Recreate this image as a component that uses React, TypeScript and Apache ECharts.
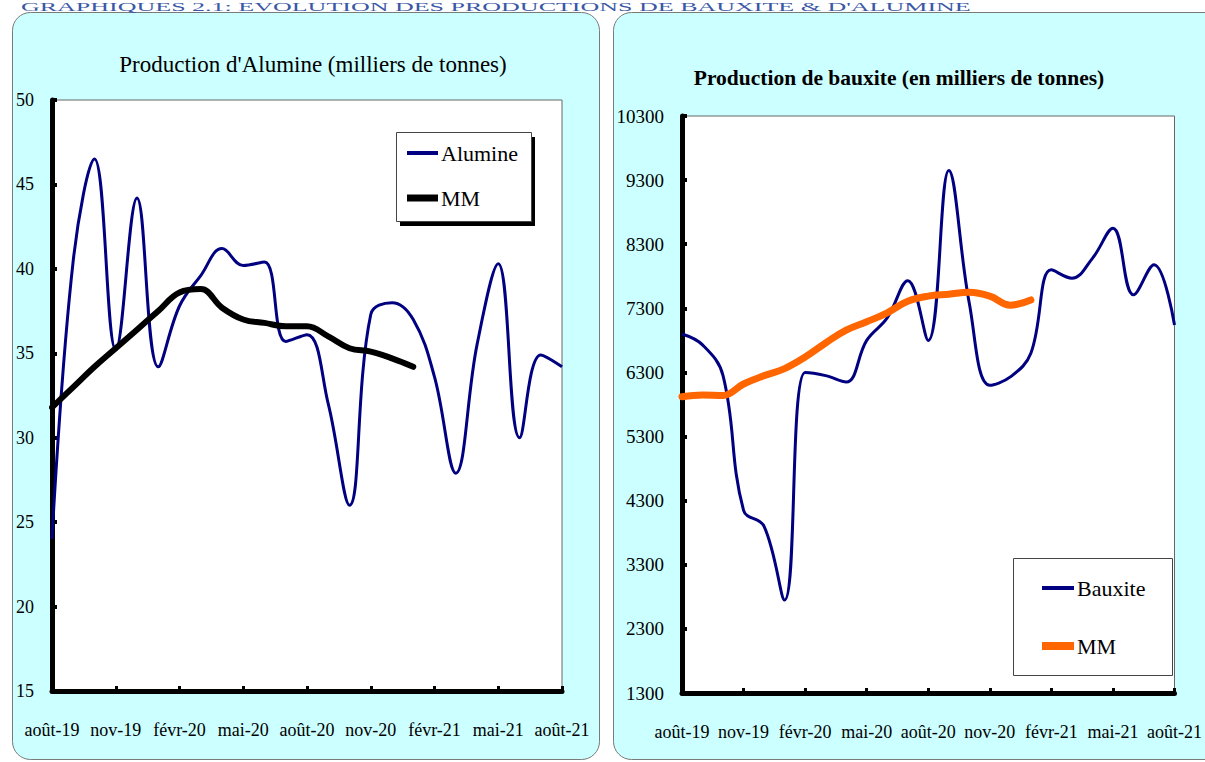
import React, { useEffect, useRef } from "react";
import * as echarts from "echarts";

const months = [
  "août-19", "sept-19", "oct-19", "nov-19", "déc-19", "janv-20", "févr-20", "mars-20", "avr-20",
  "mai-20", "juin-20", "juil-20", "août-20", "sept-20", "oct-20", "nov-20", "déc-20", "janv-21",
  "févr-21", "mars-21", "avr-21", "mai-21", "juin-21", "juil-21", "août-21",
];

const alumine = [24, 40.5, 46.5, 35.2, 44.2, 34.2, 37.8, 39.6, 41.2, 40.2, 40.4, 35.7, 36.1, 32, 26, 37.3, 38, 37, 33.6, 27.9, 35.5, 40.3, 30, 34.9, 34.2];
const alumineMM = [31.8, 33.0, 34.2, 35.3, 36.4, 37.5, 38.6, 38.8, 37.7, 37.0, 36.8, 36.6, 36.6, 36.0, 35.3, 35.1, 34.7, 34.2];

const bauxite = [6900, 6730, 6250, 4150, 3900, 2750, 6300, 6250, 6150, 6800, 7150, 7730, 6800, 9450, 7380, 6100, 6230, 6600, 7900, 7770, 8080, 8550, 7510, 7980, 7040];
const bauxiteMM = [5920, 5950, 5940, 6120, 6250, 6360, 6540, 6760, 6960, 7090, 7230, 7410, 7490, 7520, 7550, 7490, 7350, 7430];

const alumineTicks = [15, 20, 25, 30, 35, 40, 45, 50];
const bauxiteTicks = [1300, 2300, 3300, 4300, 5300, 6300, 7300, 8300, 9300, 10300];

const headerText = "GRAPHIQUES 2.1: EVOLUTION DES PRODUCTIONS DE BAUXITE & D'ALUMINE";
const titleLeft = "Production d'Alumine (milliers de tonnes)";
const titleRight = "Production de bauxite (en milliers de tonnes)";

const FONT = '"Liberation Serif", "Times New Roman", serif';
const NAVY = "#000080";
const ORANGE = "#FF6600";

function xAxis(gridIndex: number) {
  return {
    type: "category",
    gridIndex,
    data: months,
    boundaryGap: false,
    axisLine: { show: true, lineStyle: { color: "#000", width: 5 } },
    axisTick: { show: true, inside: true, interval: 2, length: 5, lineStyle: { color: "#000", width: 3 } },
    axisLabel: { interval: 2, color: "#000", fontFamily: FONT, fontSize: 18, margin: 30 },
    splitLine: { show: false },
  };
}

function yAxis(gridIndex: number, ticks: number[], fontSize: number) {
  return {
    type: "value",
    gridIndex,
    min: ticks[0],
    max: ticks[ticks.length - 1],
    interval: ticks[1] - ticks[0],
    axisLine: { show: true, lineStyle: { color: "#000", width: 5 } },
    axisTick: { show: true, inside: true, length: 5, lineStyle: { color: "#000", width: 4 } },
    axisLabel: {
      color: "#000", fontFamily: FONT, fontSize, margin: 18,
      formatter: (v: number) => String(v),
    },
    splitLine: { show: false },
  };
}

function legendItem(name: string, color: string, left: number, top: number, w: number, h: number) {
  return {
    data: [{ name, icon: "rect", itemStyle: { color } }],
    left,
    top,
    itemWidth: w,
    itemHeight: h,
    padding: 0,
    itemGap: 0,
    selectedMode: false,
    textStyle: { color: "#000", fontFamily: FONT, fontSize: 22, padding: [0, 0, 0, -2] },
  };
}

export default function App() {
  const ref = useRef<HTMLDivElement>(null);

  useEffect(() => {
    if (!ref.current) return;
    const chart = echarts.init(ref.current, undefined, { renderer: "svg" });
    chart.setOption({
      animation: false,
      textStyle: { fontFamily: FONT },
      graphic: [
        {
          type: "rect", z: -10,
          shape: { x: 12.5, y: 12.5, width: 587, height: 747, r: 18 },
          style: { fill: "#CCFFFF", stroke: "#7a7a7a", lineWidth: 1 },
        },
        {
          type: "rect", z: -10,
          shape: { x: 613.5, y: 12.5, width: 610, height: 747, r: 18 },
          style: { fill: "#CCFFFF", stroke: "#7a7a7a", lineWidth: 1 },
        },
        {
          type: "text", x: 21, y: 0, z: 5, scaleY: 0.5,
          style: {
            text: headerText, fill: "#3A58A6", fontFamily: FONT, fontSize: 26,
            align: "left", verticalAlign: "top", textAlign: "left", textVerticalAlign: "top",
          },
        },
        {
          type: "text", x: 313, y: 64, z: 5,
          style: {
            text: titleLeft, fill: "#000", fontFamily: FONT, fontSize: 23,
            align: "center", verticalAlign: "middle", textAlign: "center", textVerticalAlign: "middle",
          },
        },
        {
          type: "text", x: 899, y: 78, z: 5,
          style: {
            text: titleRight, fill: "#000", fontFamily: FONT, fontSize: 21.5, fontWeight: "bold",
            align: "center", verticalAlign: "middle", textAlign: "center", textVerticalAlign: "middle",
          },
        },
        {
          type: "rect", z: 3,
          shape: { x: 400, y: 137, width: 135, height: 89 },
          style: { fill: "#000" },
        },
        {
          type: "rect", z: 3,
          shape: { x: 396.5, y: 132.5, width: 135, height: 89 },
          style: { fill: "#fff", stroke: "#444", lineWidth: 1 },
        },
        {
          type: "rect", z: 3,
          shape: { x: 1013.5, y: 558.5, width: 159, height: 117 },
          style: { fill: "#fff", stroke: "#444", lineWidth: 1 },
        },
      ],
      legend: [
        legendItem("Alumine", NAVY, 407, 142, 31, 4),
        legendItem("MM", "#000", 407, 187, 31, 7),
        legendItem("Bauxite", NAVY, 1042, 577, 32, 4),
        legendItem("MM", ORANGE, 1042, 635, 32, 8),
      ],
      grid: [
        {
          left: 52, top: 100, width: 510, height: 591,
          show: true, backgroundColor: "#fff", borderColor: "#666", borderWidth: 1,
        },
        {
          left: 682, top: 116, width: 496, height: 577,
          show: true, backgroundColor: "#fff", borderColor: "#666", borderWidth: 1,
        },
      ],
      xAxis: [xAxis(0), xAxis(1)],
      yAxis: [yAxis(0, alumineTicks, 18), yAxis(1, bauxiteTicks, 19)],
      series: [
        {
          type: "line", name: "Alumine", xAxisIndex: 0, yAxisIndex: 0, data: alumine,
          smooth: 0.4, symbol: "none", z: 2,
          lineStyle: { color: NAVY, width: 3 }, itemStyle: { color: NAVY },
        },
        {
          type: "line", name: "MM", xAxisIndex: 0, yAxisIndex: 0, data: alumineMM,
          smooth: 0.4, symbol: "none", z: 2,
          lineStyle: { color: "#000", width: 6, cap: "round" }, itemStyle: { color: "#000" },
        },
        {
          type: "line", name: "Bauxite", xAxisIndex: 1, yAxisIndex: 1, data: bauxite,
          smooth: 0.4, symbol: "none", z: 2,
          lineStyle: { color: NAVY, width: 3 }, itemStyle: { color: NAVY },
        },
        {
          type: "line", name: "MM", xAxisIndex: 1, yAxisIndex: 1, data: bauxiteMM,
          smooth: 0.4, symbol: "none", z: 2,
          lineStyle: { color: ORANGE, width: 7, cap: "round" }, itemStyle: { color: ORANGE },
        },
      ],
    });
    return () => chart.dispose();
  }, []);

  return (
    <div
      style={{ position: "absolute", left: 0, top: 0, width: 1205, height: 762, overflow: "hidden", background: "#fff" }}
    >
      <div ref={ref} style={{ width: 1205, height: 762 }} />
    </div>
  );
}
